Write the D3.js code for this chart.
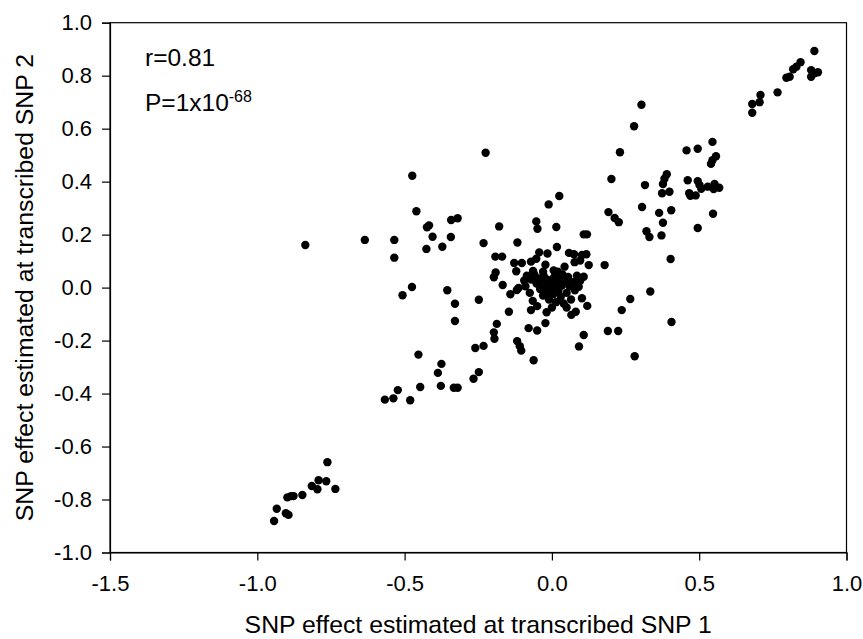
<!DOCTYPE html>
<html>
<head>
<meta charset="utf-8">
<script src="https://cdn.jsdelivr.net/npm/d3@7/dist/d3.min.js"></script>
<style>
  html, body { margin: 0; padding: 0; background: #fff; }
  svg { display: block; }
  text { font-family: "Liberation Sans", Arial, sans-serif; fill: #000; }
</style>
</head>
<body>
<svg id="chart" width="863" height="639"></svg>
<script>
// ---- data (SNP effect at transcribed SNP 1, SNP effect at transcribed SNP 2) ----
const xTicks = [-1.5, -1.0, -0.5, 0.0, 0.5, 1.0];
const yTicks = [-1.0, -0.8, -0.6, -0.4, -0.2, 0.0, 0.2, 0.4, 0.6, 0.8, 1.0];

const lowerLeftCluster = [
  [-0.762,-0.659],[-0.766,-0.731],[-0.792,-0.727],[-0.815,-0.749],[-0.796,-0.761],
  [-0.847,-0.783],[-0.898,-0.792],[-0.885,-0.787],[-0.877,-0.787],[-0.934,-0.835],
  [-0.903,-0.852],[-0.894,-0.858],[-0.943,-0.881],[-0.735,-0.760]
];

const leftPoints = [
  [-0.837,0.161],[-0.225,0.509],[-0.474,0.422],[-0.460,0.288],[-0.424,0.228],[-0.417,0.235],
  [-0.342,0.255],[-0.320,0.262],[-0.179,0.231],[-0.635,0.180],[-0.535,0.180],[-0.535,0.113],
  [-0.405,0.192],[-0.343,0.191],[-0.426,0.146],[-0.372,0.154],[-0.232,0.168],[-0.192,0.117],
  [-0.169,0.117],[-0.191,0.057],[-0.197,0.039],[-0.167,0.010],[-0.475,0.002],[-0.507,-0.029],
  [-0.355,-0.010],[-0.248,-0.046],[-0.329,-0.061]
];

const lowerMidPoints = [
  [-0.329,-0.126],[-0.187,-0.137],[-0.197,-0.169],[-0.195,-0.193],[-0.260,-0.228],[-0.232,-0.220],
  [-0.453,-0.253],[-0.375,-0.288],[-0.387,-0.322],[-0.248,-0.319],[-0.266,-0.344],[-0.447,-0.375],
  [-0.377,-0.371],[-0.333,-0.378],[-0.320,-0.378],[-0.523,-0.387],[-0.538,-0.418],[-0.567,-0.423],
  [-0.481,-0.425]
];

const centralPoints = [
  [-0.011,0.314],[0.306,0.304],[0.192,0.285],[0.213,0.263],[0.227,0.247],[-0.053,0.250],
  [-0.049,0.222],[0.015,0.229],[0.321,0.213],[0.331,0.191],[0.108,0.201],[0.119,0.201],
  [-0.117,0.170],[0.017,0.153],[-0.043,0.133],[-0.015,0.129],[0.058,0.131],[0.075,0.126],
  [0.102,0.123],[0.117,0.126],[-0.128,0.093],[-0.102,0.093],[-0.071,0.098],[-0.053,0.109],
  [0.125,0.085],[0.179,0.085],[-0.022,0.086],[0.043,0.079],[0.077,0.096],[0.096,0.102],
  [-0.121,0.062],[0.006,0.065],[-0.064,0.063],[-0.094,0.027],[0.108,0.041],[0.096,0.026],
  [0.091,0.003],[0.334,-0.015],[-0.113,-0.001],[-0.141,-0.025],[-0.119,-0.009],[0.102,-0.040],
  [0.120,-0.069],[0.266,-0.043],[0.237,-0.085],[-0.146,-0.091],[-0.071,-0.085],[-0.018,-0.093],
  [0.081,-0.091],[0.066,-0.103],[-0.022,-0.134],[-0.079,-0.153],[-0.050,-0.162],[0.190,-0.164],
  [0.225,-0.164],[0.108,-0.179],[-0.118,-0.202],[-0.109,-0.221],[-0.104,-0.238],[0.092,-0.222],
  [-0.062,-0.274],[0.281,-0.259],[0.406,-0.130]
];

const coreCluster = [
  [-0.085,0.045],[-0.070,0.030],[-0.060,0.050],[-0.052,0.015],[-0.045,0.035],[-0.040,-0.005],
  [-0.035,0.020],[-0.030,-0.030],[-0.028,0.045],[-0.022,0.005],[-0.018,-0.015],[-0.015,0.030],
  [-0.010,-0.045],[-0.008,0.012],[-0.004,-0.008],[0.000,0.022],[0.004,-0.025],[0.008,0.040],
  [0.010,0.000],[0.014,-0.055],[0.018,0.018],[0.022,-0.012],[0.026,0.032],[0.030,-0.035],
  [0.034,0.008],[0.040,-0.060],[0.045,0.025],[0.050,-0.020],[0.055,0.040],[0.060,0.005],
  [0.065,-0.045],[0.072,0.020],[0.078,-0.010],[-0.075,-0.020],[-0.065,-0.050],[-0.050,-0.070],
  [-0.030,0.060],[0.000,-0.075],[0.020,0.060],[0.050,-0.075],[-0.090,0.005],[0.085,0.045],
  [-0.012,-0.030],[0.036,0.050]
];

const upperRightPoints = [
  [0.304,0.690],[0.279,0.609],[0.231,0.511],[0.457,0.518],[0.495,0.524],[0.202,0.410],
  [0.316,0.387],[0.390,0.428],[0.382,0.411],[0.377,0.391],[0.461,0.405],[0.495,0.402],
  [0.501,0.387],[0.507,0.373],[0.529,0.381],[0.552,0.391],[0.549,0.372],[0.568,0.377],
  [0.374,0.356],[0.399,0.362],[0.466,0.356],[0.470,0.347],[0.488,0.348],[0.025,0.346],
  [0.364,0.282],[0.405,0.292],[0.377,0.245],[0.547,0.279],[0.372,0.197],[0.495,0.225],
  [0.403,0.108],[0.545,0.550],[0.557,0.496],[0.545,0.481],[0.540,0.467]
];

const topRightCluster = [
  [0.708,0.727],[0.680,0.693],[0.705,0.700],[0.680,0.660],[0.766,0.737],[0.891,0.893],
  [0.844,0.851],[0.830,0.834],[0.819,0.824],[0.807,0.796],[0.796,0.792],[0.880,0.821],
  [0.891,0.809],[0.903,0.813],[0.880,0.796]
];

const statR = "r=0.81";
const statPBase = "P=1x10";
const statPExp = "-68";
const xTitle = "SNP effect estimated at transcribed SNP 1";
const yTitle = "SNP effect estimated at transcribed SNP 2";

// ---- drawing ----
const points = [].concat(lowerLeftCluster, leftPoints, lowerMidPoints, centralPoints,
                         coreCluster, upperRightPoints, topRightCluster);

const svg = d3.select("#chart");
const margin = {left: 110, right: 16.5, top: 22.7, bottom: 86.5};
const W = 863, H = 639;
const x = d3.scaleLinear().domain([-1.5, 1.0]).range([margin.left, W - margin.right]);
const y = d3.scaleLinear().domain([-1.0, 1.0]).range([H - margin.bottom, margin.top]);

const tickFont = 22;
const titleFont = 24.8;
const statFont = 24.5;
const fmt = d => d3.format(".1f")(d).replace("\u2212", "-");

// frame
svg.append("rect")
  .attr("x", x(-1.5)).attr("y", y(1.0))
  .attr("width", x(1.0) - x(-1.5)).attr("height", y(-1.0) - y(1.0))
  .attr("fill", "none").attr("stroke", "#000").attr("stroke-width", 1.2);

const xAxis = svg.append("g")
  .attr("transform", `translate(0,${y(-1.0)})`)
  .call(d3.axisBottom(x).tickValues(xTicks).tickFormat(fmt).tickSizeOuter(0).tickSize(8).tickPadding(15));
const yAxis = svg.append("g")
  .attr("transform", `translate(${x(-1.5)},0)`)
  .call(d3.axisLeft(y).tickValues(yTicks).tickFormat(fmt).tickSizeOuter(0).tickSize(8).tickPadding(10));

[xAxis, yAxis].forEach(g => {
  g.select(".domain").attr("stroke", "#000").attr("stroke-width", 1.2);
  g.selectAll(".tick line").attr("stroke", "#000").attr("stroke-width", 1.2);
  g.selectAll(".tick text")
    .attr("fill", "#000")
    .style("font-family", '"Liberation Sans", Arial, sans-serif')
    .style("font-size", tickFont + "px");
});

// points
svg.append("g").selectAll("circle")
  .data(points)
  .join("circle")
  .attr("cx", d => x(d[0]))
  .attr("cy", d => y(d[1]))
  .attr("r", 4.2)
  .attr("fill", "#000");

// stats text
svg.append("text")
  .attr("x", 145).attr("y", 66)
  .style("font-size", statFont + "px")
  .text(statR);
const pText = svg.append("text")
  .attr("x", 145).attr("y", 110.7)
  .style("font-size", statFont + "px");
pText.append("tspan").text(statPBase);
pText.append("tspan").attr("dy", -9).style("font-size", "16px").text(statPExp);

// axis titles
svg.append("text")
  .attr("x", (x(-1.5) + x(1.0)) / 2).attr("y", 633)
  .attr("text-anchor", "middle")
  .style("font-size", titleFont + "px")
  .text(xTitle);
svg.append("text")
  .attr("transform", `translate(33,${(y(1.0) + y(-1.0)) / 2}) rotate(-90)`)
  .attr("text-anchor", "middle")
  .style("font-size", titleFont + "px")
  .text(yTitle);
</script>
</body>
</html>
